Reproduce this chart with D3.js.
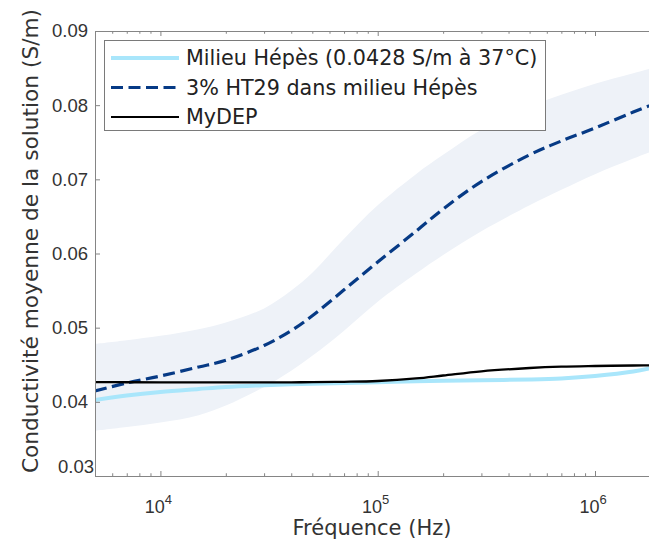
<!DOCTYPE html>
<html lang="fr">
<head>
<meta charset="utf-8">
<title>Conductivité moyenne de la solution</title>
<script src="https://cdn.jsdelivr.net/npm/d3@7"></script>
<style>
  body { margin: 0; background: #fff; }
  svg { display: block; }
</style>
</head>
<body>
<script>
// fréquences (Hz) et valeurs (S/m)
var freq      = [5e3, 7e3, 1e4, 1.5e4, 2e4, 3e4, 4e4, 5e4, 7e4, 1e5, 1.5e5, 2e5, 3e5, 5e5, 7e5, 1e6, 1.5e6, 2e6];
var hepes     = [0.04025, 0.04085, 0.04133, 0.04173, 0.0420, 0.04225, 0.04238, 0.04245, 0.04254, 0.04265, 0.04278, 0.04285, 0.04292, 0.04301, 0.04315, 0.04348, 0.04409, 0.04483];
var ht29      = [0.04146, 0.04254, 0.04348, 0.0447, 0.0456, 0.0476, 0.0496, 0.0516, 0.0551, 0.05885, 0.0630, 0.0660, 0.0697, 0.0733, 0.07517, 0.07692, 0.07907, 0.0805];
var ht29Upper = [0.0478, 0.0483, 0.0489, 0.0498, 0.0507, 0.0526, 0.0550, 0.0574, 0.0620, 0.0665, 0.0707, 0.0733, 0.0767, 0.0798, 0.0814, 0.0829, 0.0843, 0.0853];
var ht29Lower = [0.0361, 0.0366, 0.0372, 0.0382, 0.0395, 0.0420, 0.0442, 0.0462, 0.0496, 0.0535, 0.0573, 0.0598, 0.0630, 0.0665, 0.0686, 0.0707, 0.0728, 0.0742];
var mydep     = [0.04265, 0.04264, 0.04263, 0.04262, 0.04262, 0.04262, 0.04263, 0.04265, 0.0427, 0.04281, 0.04315, 0.04355, 0.04412, 0.04456, 0.04474, 0.04483, 0.0449, 0.04494];

var yTicks = [0.03, 0.04, 0.05, 0.06, 0.07, 0.08, 0.09];
var xMajor = [1e4, 1e5, 1e6];
var legendLabels = ["Milieu Hépès (0.0428 S/m à 37°C)", "3% HT29 dans milieu Hépès", "MyDEP"];

var w = 649, h = 540;
var plotLeft = 95, plotTop = 31, plotBottom = 476;
var decade = 217.3;

var svg = d3.select("body").append("svg")
  .attr("width", w)
  .attr("height", h);

var x = d3.scaleLog()
  .domain([5e3, 2e6])
  .range([plotLeft, plotLeft + Math.log10(2e6 / 5e3) * decade]);

var y = d3.scaleLinear()
  .domain([0.03, 0.09])
  .range([plotBottom, plotTop]);

var plotRight = x.range()[1];

svg.append("clipPath").attr("id", "plot")
  .append("rect")
  .attr("x", plotLeft).attr("y", plotTop)
  .attr("width", plotRight - plotLeft).attr("height", plotBottom - plotTop);

var plot = svg.append("g").attr("clip-path", "url(#plot)");

// bande autour de la courbe HT29
var rows = freq.map(function(f, i) {
  return { f: f, hepes: hepes[i], ht29: ht29[i], lo: ht29Lower[i], hi: ht29Upper[i], mydep: mydep[i] };
});

var curve = d3.curveCatmullRom.alpha(0.5);

plot.append("path")
  .datum(rows)
  .attr("fill", "#eef2f8")
  .attr("d", d3.area()
    .x(function(d) { return x(d.f); })
    .y0(function(d) { return y(d.lo); })
    .y1(function(d) { return y(d.hi); })
    .curve(curve));

function lineOf(key) {
  return d3.line()
    .x(function(d) { return x(d.f); })
    .y(function(d) { return y(d[key]); })
    .curve(curve);
}

var styles = [
  { key: "hepes", color: "#a9e6fb", width: 4, dash: null },
  { key: "ht29", color: "#063a85", width: 3.2, dash: "12,5.5" },
  { key: "mydep", color: "#000000", width: 2.3, dash: null }
];

styles.forEach(function(s) {
  plot.append("path")
    .datum(rows)
    .attr("fill", "none")
    .attr("stroke", s.color)
    .attr("stroke-width", s.width)
    .attr("stroke-dasharray", s.dash)
    .attr("d", lineOf(s.key));
});

// axes
var axisColor = "#858585";
var xTicks = [];
[3, 4, 5, 6].forEach(function(e) {
  for (var k = 1; k <= 9; k++) {
    var v = k * Math.pow(10, e);
    if (v > 5e3 && v < 2e6) xTicks.push(v);
  }
});

function styleAxis(g) {
  g.select(".domain").attr("stroke", axisColor);
  g.selectAll(".tick line").attr("stroke", axisColor);
}

function shortMinor(g) {
  g.selectAll(".tick line").filter(function(d) { return xMajor.indexOf(d) < 0; })
    .attr("y2", function() { return +d3.select(this).attr("y2") * 0.55; });
}

svg.append("g")
  .attr("transform", "translate(0," + plotBottom + ")")
  .call(d3.axisBottom(x).tickValues(xTicks).tickSizeInner(-5).tickSizeOuter(0).tickFormat(""))
  .call(styleAxis)
  .call(shortMinor);

svg.append("g")
  .attr("transform", "translate(0," + plotTop + ")")
  .call(d3.axisTop(x).tickValues(xTicks).tickSizeInner(-5).tickSizeOuter(0).tickFormat(""))
  .call(styleAxis)
  .call(shortMinor);

var gLeft = svg.append("g")
  .attr("transform", "translate(" + plotLeft + ",0)")
  .call(d3.axisLeft(y).tickValues(yTicks).tickSizeInner(-5).tickSizeOuter(0)
    .tickPadding(7).tickFormat(d3.format(".2f")))
  .call(styleAxis);

gLeft.selectAll(".tick text")
  .attr("font-family", "'Liberation Sans', Arial, sans-serif")
  .attr("font-size", 18.5)
  .attr("fill", "#333");

// MATLAB décale la dernière étiquette
gLeft.selectAll(".tick text").filter(function(d) { return d === 0.03; })
  .attr("x", -1)
  .attr("dy", "-0.2em");

// étiquettes 10^n
var xl = svg.append("g")
  .attr("font-family", "'Liberation Sans', Arial, sans-serif")
  .attr("fill", "#333");

xMajor.forEach(function(v) {
  var t = xl.append("text")
    .attr("x", x(v) - 2)
    .attr("y", 513)
    .attr("text-anchor", "middle");
  t.append("tspan").attr("font-size", 18).text("10");
  t.append("tspan").attr("font-size", 13).attr("dy", -9).text(Math.round(Math.log10(v)));
});

// titres des axes
svg.append("text")
  .attr("x", (plotLeft + w) / 2)
  .attr("y", 535)
  .attr("text-anchor", "middle")
  .attr("font-family", "'DejaVu Sans', Verdana, sans-serif")
  .attr("font-size", 21)
  .attr("fill", "#333")
  .text("Fréquence (Hz)");

svg.append("text")
  .attr("transform", "translate(38,241) rotate(-90)")
  .attr("text-anchor", "middle")
  .attr("font-family", "'DejaVu Sans', Verdana, sans-serif")
  .attr("font-size", 21.7)
  .attr("fill", "#333")
  .text("Conductivité moyenne de la solution (S/m)");

// légende
var legend = svg.append("g");
legend.append("rect")
  .attr("x", 104.5).attr("y", 40.5)
  .attr("width", 441).attr("height", 90)
  .attr("fill", "#fff")
  .attr("stroke", "#7a7a7a");

styles.forEach(function(s, i) {
  var ly = 58 + i * 29.5;
  legend.append("line")
    .attr("x1", 111).attr("x2", 179)
    .attr("y1", ly).attr("y2", ly)
    .attr("stroke", s.color)
    .attr("stroke-width", s.key === "mydep" ? 2 : s.width)
    .attr("stroke-dasharray", s.dash);
  legend.append("text")
    .attr("x", 186)
    .attr("y", ly)
    .attr("dy", "0.36em")
    .attr("font-family", "'DejaVu Sans', Verdana, sans-serif")
    .attr("font-size", 20.7)
    .attr("fill", "#222")
    .text(legendLabels[i]);
});
</script>
</body>
</html>
